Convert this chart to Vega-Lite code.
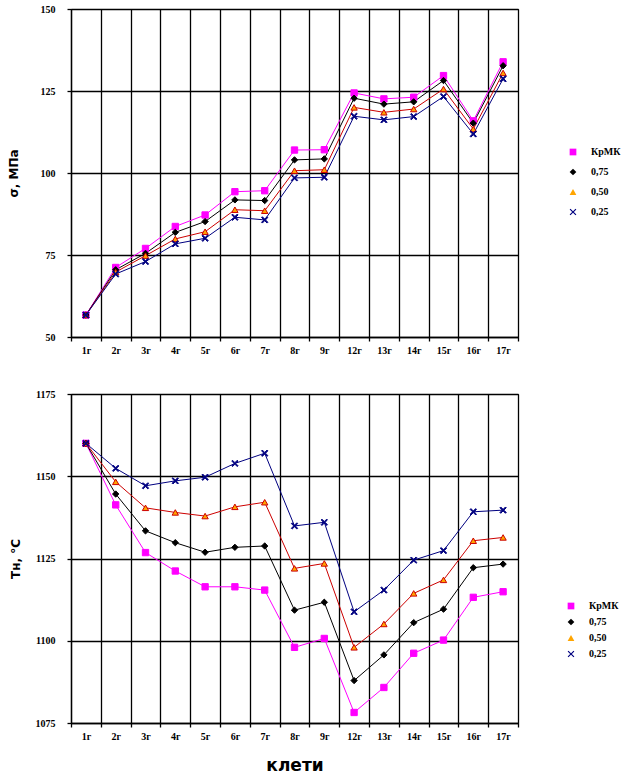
{
  "$schema": "https://vega.github.io/schema/vega-lite/v6.json",
  "background": "white",
  "padding": {"left": 6, "top": 3, "right": 5, "bottom": 3},
  "spacing": 32,
  "config": {
    "view": {"stroke": "#000000", "strokeWidth": 1},
    "axis": {
      "gridColor": "#000000", "gridWidth": 1.3, "gridOpacity": 1,
      "domainColor": "#000000", "domainWidth": 1.3,
      "tickColor": "#000000", "tickWidth": 1.3, "tickSize": 4,
      "labelColor": "#000000", "labelFont": "Liberation Serif", "labelFontWeight": "bold", "labelFontSize": 10,
      "titleColor": "#000000", "titleFont": "DejaVu Sans", "titleFontWeight": "bold"
    },
    "legend": {
      "labelFont": "Liberation Serif", "labelFontWeight": "bold", "labelFontSize": 10, "labelColor": "#000000", "labelOffset": 13
    }
  },
  "datasets": {
    "sigma": [
      {"c":"1г","s":"КрМК","v":56.7},{"c":"2г","s":"КрМК","v":71.2},{"c":"3г","s":"КрМК","v":77.0},{"c":"4г","s":"КрМК","v":83.7},{"c":"5г","s":"КрМК","v":87.2},{"c":"6г","s":"КрМК","v":94.3},{"c":"7г","s":"КрМК","v":94.6},{"c":"8г","s":"КрМК","v":107.0},{"c":"9г","s":"КрМК","v":107.1},{"c":"12г","s":"КрМК","v":124.4},{"c":"13г","s":"КрМК","v":122.6},{"c":"14г","s":"КрМК","v":123.1},{"c":"15г","s":"КрМК","v":129.7},{"c":"16г","s":"КрМК","v":115.9},{"c":"17г","s":"КрМК","v":133.9},
      {"c":"1г","s":"0,75","v":56.7},{"c":"2г","s":"0,75","v":70.5},{"c":"3г","s":"0,75","v":75.5},{"c":"4г","s":"0,75","v":81.9},{"c":"5г","s":"0,75","v":85.2},{"c":"6г","s":"0,75","v":91.8},{"c":"7г","s":"0,75","v":91.6},{"c":"8г","s":"0,75","v":104.0},{"c":"9г","s":"0,75","v":104.3},{"c":"12г","s":"0,75","v":122.8},{"c":"13г","s":"0,75","v":121.0},{"c":"14г","s":"0,75","v":121.7},{"c":"15г","s":"0,75","v":128.2},{"c":"16г","s":"0,75","v":115.2},{"c":"17г","s":"0,75","v":132.7},
      {"c":"1г","s":"0,50","v":56.7},{"c":"2г","s":"0,50","v":69.8},{"c":"3г","s":"0,50","v":74.8},{"c":"4г","s":"0,50","v":79.9},{"c":"5г","s":"0,50","v":82.1},{"c":"6г","s":"0,50","v":88.8},{"c":"7г","s":"0,50","v":88.5},{"c":"8г","s":"0,50","v":100.7},{"c":"9г","s":"0,50","v":101.0},{"c":"12г","s":"0,50","v":120.0},{"c":"13г","s":"0,50","v":118.5},{"c":"14г","s":"0,50","v":119.5},{"c":"15г","s":"0,50","v":125.6},{"c":"16г","s":"0,50","v":113.4},{"c":"17г","s":"0,50","v":130.5},
      {"c":"1г","s":"0,25","v":56.7},{"c":"2г","s":"0,25","v":69.2},{"c":"3г","s":"0,25","v":73.0},{"c":"4г","s":"0,25","v":78.4},{"c":"5г","s":"0,25","v":80.1},{"c":"6г","s":"0,25","v":86.5},{"c":"7г","s":"0,25","v":85.7},{"c":"8г","s":"0,25","v":98.5},{"c":"9г","s":"0,25","v":98.7},{"c":"12г","s":"0,25","v":117.3},{"c":"13г","s":"0,25","v":116.2},{"c":"14г","s":"0,25","v":117.2},{"c":"15г","s":"0,25","v":123.3},{"c":"16г","s":"0,25","v":111.9},{"c":"17г","s":"0,25","v":128.7}
    ],
    "temp": [
      {"c":"1г","s":"КрМК","v":1160},{"c":"2г","s":"КрМК","v":1141.3},{"c":"3г","s":"КрМК","v":1126.8},{"c":"4г","s":"КрМК","v":1121.2},{"c":"5г","s":"КрМК","v":1116.4},{"c":"6г","s":"КрМК","v":1116.4},{"c":"7г","s":"КрМК","v":1115.4},{"c":"8г","s":"КрМК","v":1098.0},{"c":"9г","s":"КрМК","v":1100.7},{"c":"12г","s":"КрМК","v":1078.2},{"c":"13г","s":"КрМК","v":1085.8},{"c":"14г","s":"КрМК","v":1096.2},{"c":"15г","s":"КрМК","v":1100.2},{"c":"16г","s":"КрМК","v":1113.2},{"c":"17г","s":"КрМК","v":1114.9},
      {"c":"1г","s":"0,75","v":1160},{"c":"2г","s":"0,75","v":1144.6},{"c":"3г","s":"0,75","v":1133.4},{"c":"4г","s":"0,75","v":1129.8},{"c":"5г","s":"0,75","v":1126.9},{"c":"6г","s":"0,75","v":1128.4},{"c":"7г","s":"0,75","v":1128.8},{"c":"8г","s":"0,75","v":1109.3},{"c":"9г","s":"0,75","v":1111.7},{"c":"12г","s":"0,75","v":1087.9},{"c":"13г","s":"0,75","v":1095.7},{"c":"14г","s":"0,75","v":1105.5},{"c":"15г","s":"0,75","v":1109.6},{"c":"16г","s":"0,75","v":1122.2},{"c":"17г","s":"0,75","v":1123.3},
      {"c":"1г","s":"0,50","v":1160},{"c":"2г","s":"0,50","v":1148.3},{"c":"3г","s":"0,50","v":1140.4},{"c":"4г","s":"0,50","v":1139.0},{"c":"5г","s":"0,50","v":1137.9},{"c":"6г","s":"0,50","v":1140.7},{"c":"7г","s":"0,50","v":1142.1},{"c":"8г","s":"0,50","v":1122.0},{"c":"9г","s":"0,50","v":1123.5},{"c":"12г","s":"0,50","v":1098.0},{"c":"13г","s":"0,50","v":1105.1},{"c":"14г","s":"0,50","v":1114.4},{"c":"15г","s":"0,50","v":1118.5},{"c":"16г","s":"0,50","v":1130.4},{"c":"17г","s":"0,50","v":1131.4},
      {"c":"1г","s":"0,25","v":1160},{"c":"2г","s":"0,25","v":1152.4},{"c":"3г","s":"0,25","v":1147.1},{"c":"4г","s":"0,25","v":1148.6},{"c":"5г","s":"0,25","v":1149.7},{"c":"6г","s":"0,25","v":1153.9},{"c":"7г","s":"0,25","v":1157.0},{"c":"8г","s":"0,25","v":1134.9},{"c":"9г","s":"0,25","v":1136.0},{"c":"12г","s":"0,25","v":1108.8},{"c":"13г","s":"0,25","v":1115.4},{"c":"14г","s":"0,25","v":1124.5},{"c":"15г","s":"0,25","v":1127.4},{"c":"16г","s":"0,25","v":1139.2},{"c":"17г","s":"0,25","v":1139.7}
    ]
  },
  "resolve": {"scale": {"fill": "independent", "shape": "independent", "stroke": "independent"}},
  "vconcat": [
    {
      "width": 447, "height": 328,
      "data": {"name": "sigma"},
      "encoding": {
        "x": {"field": "c", "type": "ordinal", "sort": ["1г","2г","3г","4г","5г","6г","7г","8г","9г","12г","13г","14г","15г","16г","17г"],
          "scale": {"type": "band", "paddingInner": 0, "paddingOuter": 0},
          "axis": {"title": null, "tickBand": "extent", "labelAngle": 0, "grid": true, "labelPadding": 4}},
        "y": {"field": "v", "type": "quantitative", "scale": {"domain": [50, 150], "nice": false, "zero": false},
          "axis": {"values": [50, 75, 100, 125, 150], "format": "d", "title": "σ, МПа", "titleFontSize": 12, "labelPadding": 12, "titlePadding": 20}}
      },
      "layer": [
        {"mark": {"type": "line", "strokeWidth": 1},
         "encoding": {"stroke": {"field": "s", "type": "nominal", "scale": {"domain": ["0,25","0,50","0,75","КрМК"], "range": ["#000080","#cc0000","#000000","#ff00ff"]}, "legend": null}}},
        {"mark": {"type": "point", "filled": true, "size": 40, "strokeWidth": 1, "opacity": 1},
         "encoding": {
           "fill": {"field": "s", "type": "nominal", "scale": {"domain": ["КрМК","0,75","0,50","0,25"], "range": ["#ff00ff","#000000","#ffa500","#000080"]},
             "legend": {"title": null, "orient": "none", "legendX": 497, "legendY": 138, "rowPadding": 10, "symbolSize": 45, "symbolStrokeWidth": 0}},
           "shape": {"field": "s", "type": "nominal", "scale": {"domain": ["КрМК","0,75","0,50","0,25"], "range": ["square","diamond","triangle-up","M-1,-0.75L-0.75,-1L0,-0.25L0.75,-1L1,-0.75L0.25,0L1,0.75L0.75,1L0,0.25L-0.75,1L-1,0.75L-0.25,0Z"]},
             "legend": {"title": null, "orient": "none", "legendX": 497, "legendY": 138, "rowPadding": 10, "symbolSize": 45, "symbolStrokeWidth": 0}},
           "stroke": {"field": "s", "type": "nominal", "scale": {"domain": ["0,25","0,50","0,75","КрМК"], "range": ["#000080","#cc0000","#000000","#ff00ff"]}, "legend": null}
         }}
      ]
    },
    {
      "width": 447, "height": 329,
      "data": {"name": "temp"},
      "encoding": {
        "x": {"field": "c", "type": "ordinal", "sort": ["1г","2г","3г","4г","5г","6г","7г","8г","9г","12г","13г","14г","15г","16г","17г"],
          "scale": {"type": "band", "paddingInner": 0, "paddingOuter": 0},
          "axis": {"title": "клети", "titleFontSize": 17, "titlePadding": 16, "tickBand": "extent", "labelAngle": 0, "grid": true, "labelPadding": 4}},
        "y": {"field": "v", "type": "quantitative", "scale": {"domain": [1075, 1175], "nice": false, "zero": false},
          "axis": {"values": [1075, 1100, 1125, 1150, 1175], "format": "d", "title": "Tн, °C", "titleFontSize": 12, "labelPadding": 12, "titlePadding": 13}}
      },
      "layer": [
        {"mark": {"type": "line", "strokeWidth": 1},
         "encoding": {"stroke": {"field": "s", "type": "nominal", "scale": {"domain": ["0,25","0,50","0,75","КрМК"], "range": ["#000080","#cc0000","#000000","#ff00ff"]}, "legend": null}}},
        {"mark": {"type": "point", "filled": true, "size": 40, "strokeWidth": 1, "opacity": 1},
         "encoding": {
           "fill": {"field": "s", "type": "nominal", "scale": {"domain": ["КрМК","0,75","0,50","0,25"], "range": ["#ff00ff","#000000","#ffa500","#000080"]},
             "legend": {"title": null, "orient": "none", "legendX": 495, "legendY": 207, "rowPadding": 6, "symbolSize": 45, "symbolStrokeWidth": 0}},
           "shape": {"field": "s", "type": "nominal", "scale": {"domain": ["КрМК","0,75","0,50","0,25"], "range": ["square","diamond","triangle-up","M-1,-0.75L-0.75,-1L0,-0.25L0.75,-1L1,-0.75L0.25,0L1,0.75L0.75,1L0,0.25L-0.75,1L-1,0.75L-0.25,0Z"]},
             "legend": {"title": null, "orient": "none", "legendX": 495, "legendY": 207, "rowPadding": 6, "symbolSize": 45, "symbolStrokeWidth": 0}},
           "stroke": {"field": "s", "type": "nominal", "scale": {"domain": ["0,25","0,50","0,75","КрМК"], "range": ["#000080","#cc0000","#000000","#ff00ff"]}, "legend": null}
         }}
      ]
    }
  ]
}
